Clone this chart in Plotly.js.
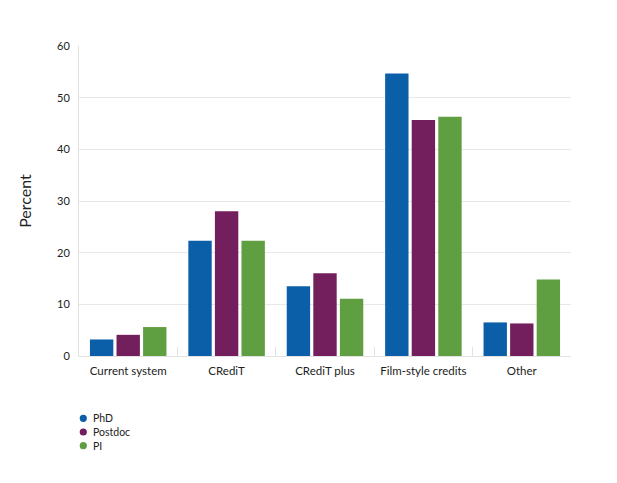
<!DOCTYPE html>
<html>
<head>
<meta charset="utf-8">
<script src="https://cdn.plot.ly/plotly-3.0.1.min.js"></script>
<style>html,body{margin:0;padding:0;background:#fff;}#chart{width:617px;height:483px;}</style>
</head>
<body>
<div id="chart"></div>
<script>
const categories = ["Current system", "CRediT", "CRediT plus", "Film-style credits", "Other"];
const seriesNames = ["PhD", "Postdoc", "PI"];
const phd = [3.2, 22.3, 13.5, 54.7, 6.5];
const postdoc = [4.1, 28.0, 16.0, 45.7, 6.3];
const pi = [5.6, 22.3, 11.1, 46.3, 14.8];
const yTickVals = [0, 10, 20, 30, 40, 50, 60];

const colors = ["#0b5ea8", "#731f5d", "#5f9f41"];
const values = [phd, postdoc, pi];

const W = 617, H = 483;
const M = {l: 79, r: 46, t: 46, b: 127};
const plotW = W - M.l - M.r, plotH = H - M.t - M.b;
const px2paperX = p => (p - M.l) / plotW;
const px2paperY = p => (H - M.b - p) / plotH;

const traces = values.map((v, i) => ({
  type: "bar", x: categories, y: v, name: seriesNames[i],
  marker: {color: colors[i], line: {width: 0}},
  showlegend: false, hoverinfo: "x+y"
}));

// custom compact legend (circle swatches + labels)
const legendX = 83.3, legendTextX = 90.5, legendY0 = 418.3, legendStep = 13.7, r = 3.6;
const shapes = [], annotations = [];
seriesNames.forEach((name, i) => {
  const cy = px2paperY(legendY0 + i * legendStep);
  shapes.push({
    type: "circle", xref: "paper", yref: "paper",
    xsizemode: "pixel", ysizemode: "pixel",
    xanchor: px2paperX(legendX), yanchor: cy,
    x0: -r, x1: r, y0: -r, y1: r,
    fillcolor: colors[i], line: {width: 0}
  });
  annotations.push({
    xref: "paper", yref: "paper", x: px2paperX(legendTextX), y: cy,
    xanchor: "left", yanchor: "middle", showarrow: false,
    text: name, font: {size: 10.5, color: "#222"}
  });
});

const layout = {
  width: W, height: H, margin: M,
  paper_bgcolor: "#fff", plot_bgcolor: "#fff",
  font: {family: "Lato, 'Noto Sans', sans-serif", color: "#222", size: 11},
  barmode: "group", bargap: 0.19, bargroupgap: 0.12,
  showlegend: false,
  shapes: shapes, annotations: annotations,
  xaxis: {
    type: "category", showgrid: false, zeroline: false,
    showline: true, linecolor: "#e2e2e2", linewidth: 1,
    ticks: "inside", tickson: "boundaries", ticklen: 9, tickcolor: "#e2e2e2",
    ticklabelstandoff: 4,
    tickfont: {size: 11.5, color: "#222"}, fixedrange: true
  },
  yaxis: {
    range: [0, 60], tickvals: yTickVals, ticktext: yTickVals.map(String),
    showgrid: true, gridcolor: "#e8e8e8", gridwidth: 1,
    zeroline: false, showline: true, linecolor: "#e2e2e2", linewidth: 1,
    ticks: "", ticklabelstandoff: 6,
    tickfont: {size: 11, color: "#222"},
    title: {text: "Percent", font: {size: 16, color: "#222"}, standoff: 21},
    fixedrange: true
  }
};

Plotly.newPlot("chart", traces, layout, {displayModeBar: false, staticPlot: true});
</script>
</body>
</html>
